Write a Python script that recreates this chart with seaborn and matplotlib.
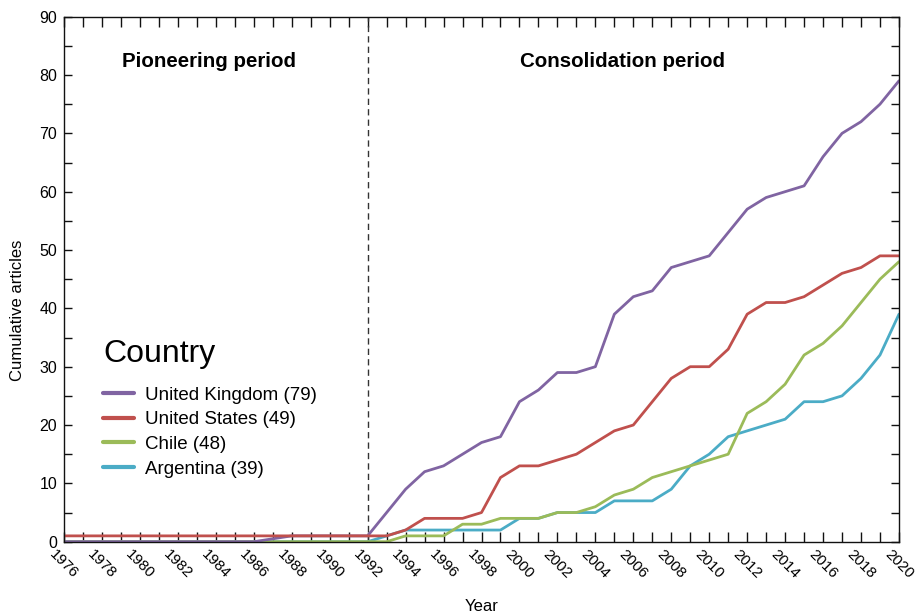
import matplotlib
matplotlib.use("Agg")
import matplotlib.pyplot as plt
from matplotlib.ticker import MultipleLocator, FixedLocator
import numpy as np
import pandas as pd
import seaborn as sns

# Publication years and cumulative article counts per country
years = list(range(1976, 2021))

uk_years = [y for y in years if y != 1987]  # no record for 1987
uk_counts = [0] * 11 + [1] * 5 + [5, 9, 12, 13, 15, 17, 18, 24, 26, 29, 29, 30,
                                  39, 42, 43, 47, 48, 49, 53, 57, 59, 60, 61,
                                  66, 70, 72, 75, 79]
us_counts = [1] * 18 + [2, 4, 4, 4, 5, 11, 13, 13, 14, 15, 17, 19, 20, 24, 28,
                        30, 30, 33, 39, 41, 41, 42, 44, 46, 47, 49, 49]
chile_counts = [0] * 18 + [1, 1, 1, 3, 3, 4, 4, 4, 5, 5, 6, 8, 9, 11, 12, 13,
                           14, 15, 22, 24, 27, 32, 34, 37, 41, 45, 48]
argentina_counts = [0] * 17 + [1, 2, 2, 2, 2, 2, 2, 4, 4, 5, 5, 5, 7, 7, 7, 9,
                               13, 15, 18, 19, 20, 21, 24, 24, 25, 28, 32, 39]

countries = ["United Kingdom", "United States", "Chile", "Argentina"]
colors = ["#8064A2", "#C0504D", "#9BBB59", "#4BACC6"]
period_labels = ["Pioneering period", "Consolidation period"]
period_split = 1992

series = {
    "United Kingdom": (uk_years, uk_counts),
    "United States": (years, us_counts),
    "Chile": (years, chile_counts),
    "Argentina": (years, argentina_counts),
}

rows = []
for name in countries:
    xs, ys = series[name]
    label = f"{name} ({ys[-1]})"
    for x, v in zip(xs, ys):
        rows.append({"Year": x, "Articles": v, "Country": label})
df = pd.DataFrame(rows)
labels = [f"{n} ({series[n][1][-1]})" for n in countries]

sns.set_theme(style="ticks")
plt.rcParams["font.family"] = ["Liberation Sans", "DejaVu Sans"]
plt.rcParams["text.color"] = "black"
plt.rcParams["axes.labelcolor"] = "black"
plt.rcParams["xtick.color"] = "black"
plt.rcParams["ytick.color"] = "black"

fig = plt.figure(figsize=(9.19, 6.13), dpi=100)
ax = fig.add_axes([0.0697, 0.1163, 0.9085, 0.8565])

sns.lineplot(data=df, x="Year", y="Articles", hue="Country",
             hue_order=labels, palette=colors, estimator=None, sort=True,
             linewidth=2.0, ax=ax)

# stacking: red above purple, green above blue
for line, z in zip(ax.lines[:4], [2.2, 2.3, 2.1, 2.0]):
    line.set_zorder(z)

ax.axvline(period_split, color="#333333", lw=1.0, ls=(0, (4.5, 3)), zorder=1.5)

ax.set_xlim(1976, 2020)
ax.set_ylim(0, 90)

ax.xaxis.set_major_locator(FixedLocator(years))
ax.set_xticklabels([str(y) if y % 2 == 0 else "" for y in years],
                   rotation=-45, ha="center", va="top")
ax.yaxis.set_major_locator(MultipleLocator(10))
ax.yaxis.set_minor_locator(MultipleLocator(5))

ax.tick_params(axis="both", which="both", direction="in", top=True,
               right=True, color="#111111", width=1.0)
ax.tick_params(axis="x", which="major", length=7, labelsize=11, pad=4)
ax.tick_params(axis="y", which="major", length=6, labelsize=11.5, pad=5)
ax.tick_params(axis="y", which="minor", length=6)

for s in ax.spines.values():
    s.set_color("#111111")
    s.set_linewidth(1.0)

ax.set_xlabel("Year", fontsize=12, labelpad=13)
ax.set_ylabel("Cumulative articles", fontsize=12)
ax.yaxis.set_label_coords(-0.047, 0.44)

ax.text(1983.63, 82.4, period_labels[0], ha="center", va="center",
        fontsize=14.8, fontweight="bold", color="black")
ax.text(2005.45, 82.4, period_labels[1], ha="center", va="center",
        fontsize=14.8, fontweight="bold", color="black")

handles, hl = ax.get_legend_handles_labels()
leg = ax.legend(handles, hl, title="Country", loc="lower left",
                bbox_to_anchor=(0.027, 0.09), frameon=False,
                fontsize=13.5, title_fontsize=23, alignment="left",
                handlelength=1.65, handletextpad=0.55, labelspacing=0.4)
for h in leg.get_lines():
    h.set_linewidth(3.0)
# a little more room between the legend title and its entries
leg._legend_box.sep = 13

fig.savefig("out.png", dpi=100)
